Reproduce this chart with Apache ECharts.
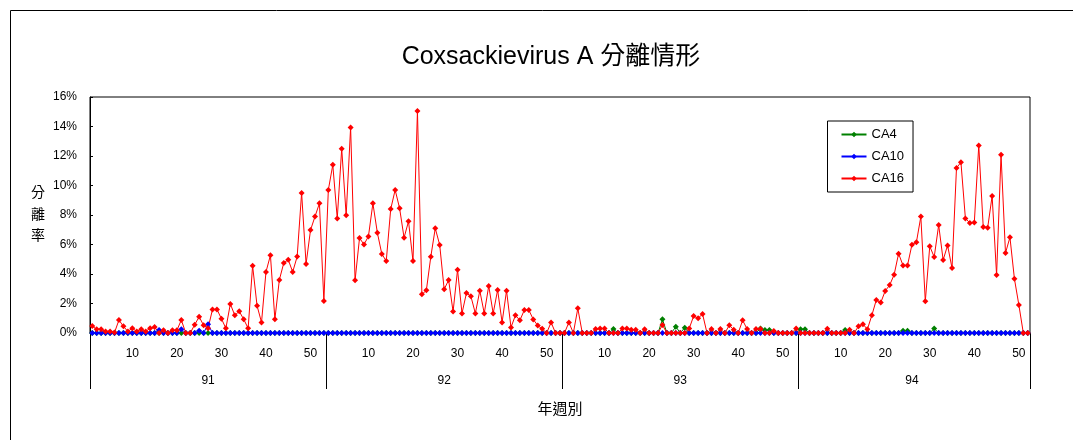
<!DOCTYPE html>
<html><head><meta charset="utf-8">
<script src="https://cdn.jsdelivr.net/npm/echarts@6/dist/echarts.min.js"></script>
<style>html,body{margin:0;padding:0;background:#fff}#c{width:1073px;height:440px}</style>
</head><body><div id="c"></div>
<script>
// ---- data (isolation rate, %) ----
const years = ['91', '92', '93', '94'];
const weeksPerYear = [53, 53, 53, 52];
const seriesNames = ['CA4', 'CA10', 'CA16'];
const yTicks = [0, 2, 4, 6, 8, 10, 12, 14, 16];

const ca4_91 = [0,0,0,0,0,0,0,0,0,0, 0,0,0,0,0,0,0,0,0,0, 0,0,0,0,0,0,0,0,0,0, 0,0,0,0,0,0,0,0,0,0, 0,0,0,0,0,0,0,0,0,0, 0,0,0];
const ca4_92 = [0,0,0,0,0,0,0,0,0,0, 0,0,0,0,0,0,0,0,0,0, 0,0,0,0,0,0,0,0,0,0, 0,0,0,0,0,0,0,0,0,0, 0,0,0,0,0,0,0,0,0,0, 0,0,0];
const ca4_93 = [0,0,0,0,0,0,0,0,0,0, 0,0.27,0,0,0,0,0,0,0,0, 0,0,0.93,0,0,0.43,0,0.36,0,0, 0,0,0,0,0,0,0,0,0,0, 0,0,0,0,0.3,0.2,0.2,0,0,0, 0,0,0];
const ca4_94 = [0.25,0.25,0,0,0,0,0,0,0,0, 0.2,0,0,0,0,0,0,0,0,0, 0,0,0,0.15,0.15,0,0,0,0,0, 0.3,0,0,0,0,0,0,0,0,0, 0,0,0,0,0,0,0,0,0,0, 0,0];

const ca10_91 = [0,0,0,0,0,0,0,0,0,0, 0,0,0,0,0,0.2,0,0,0,0, 0.25,0,0,0,0.16,0,0.6,0,0,0, 0,0,0,0,0,0,0,0,0,0, 0,0,0,0,0,0,0,0,0,0, 0,0,0];
const ca10_92 = [0,0,0,0,0,0,0,0,0,0, 0,0,0,0,0,0,0,0,0,0, 0,0,0,0,0,0,0,0,0,0, 0,0,0,0,0,0,0,0,0,0, 0,0,0,0,0,0,0,0,0,0, 0,0,0];
const ca10_93 = [0,0,0,0,0,0,0,0,0,0, 0,0,0,0,0,0,0,0,0,0, 0,0,0,0,0,0,0,0,0,0, 0,0,0,0,0,0,0,0,0,0, 0,0,0,0,0,0,0,0,0,0, 0,0,0];
const ca10_94 = [0,0,0,0,0,0,0,0,0,0, 0,0,0,0,0,0,0,0,0,0, 0,0,0,0,0,0,0,0,0,0, 0,0,0,0,0,0,0,0,0,0, 0,0,0,0,0,0,0,0,0,0, 0,0];

const ca16_91 = [0.47,0.25,0.25,0.11,0.11,0.03,0.88,0.45,0.11,0.32, 0.11,0.25,0.11,0.32,0.4,0,0.18,0,0.18,0.18, 0.88,0,0,0.56,1.1,0.52,0.32,1.6,1.6,0.97, 0.32,1.97,1.2,1.47,0.93,0.32,4.56,1.85,0.72,4.14, 5.27,0.93,3.6,4.75,4.97,4.14,5.18,9.5,4.68,6.98, 7.89,8.79,2.17];
const ca16_92 = [9.7,11.4,7.77,12.5,7.98,13.94,3.57,6.44,6.0,6.55, 8.79,6.8,5.36,4.88,8.4,9.7,8.45,6.46,7.57,4.88, 15.05,2.62,2.89,5.17,7.1,5.97,2.96,3.59,1.45,4.29, 1.33,2.71,2.49,1.33,2.87,1.33,3.19,1.33,2.92,0.72, 2.87,0.38,1.2,0.86,1.56,1.56,0.92,0.51,0.28,0, 0.72,0,0];
const ca16_93 = [0,0.72,0,1.67,0,0,0,0.27,0.3,0.3, 0,0,0,0.3,0.3,0.22,0.22,0,0.25,0, 0,0,0.54,0,0,0,0,0,0.3,1.15, 1.0,1.29,0,0.27,0,0.27,0,0.52,0.22,0, 0.86,0.27,0,0.27,0.27,0,0,0.14,0,0, 0,0,0.3];
const ca16_94 = [0,0,0,0,0,0,0.29,0,0,0, 0,0.22,0,0.45,0.6,0.25,1.2,2.24,2.06,2.85, 3.25,3.95,5.38,4.58,4.58,5.99,6.15,7.89,2.15,5.88, 5.15,7.32,4.95,5.94,4.4,11.19,11.57,7.77,7.46,7.5, 12.72,7.19,7.14,9.29,3.93,12.09,5.42,6.49,3.68,1.9, 0,0];

// ---- build categories ----
const weekCats = [], yearCats = [], yearStarts = [], yearMids = [];
let idx = 0;
years.forEach((y, k) => {
  const n = weeksPerYear[k];
  yearStarts.push(idx);
  yearMids.push(idx + Math.floor(n / 2) - (n % 2 === 0 ? 1 : 0));
  for (let w = 1; w <= n; w++) { weekCats.push(String(w)); yearCats.push(y); }
  idx += n;
});
const ca4 = [].concat(ca4_91, ca4_92, ca4_93, ca4_94);
const ca10 = [].concat(ca10_91, ca10_92, ca10_93, ca10_94);
const ca16 = [].concat(ca16_91, ca16_92, ca16_93, ca16_94);

const FONT = '"Liberation Sans", Arial, "Noto Sans CJK TC", sans-serif';
const chart = echarts.init(document.getElementById('c'), null, { renderer: 'canvas' });
const mk = (name, data, color) => ({
  name, type: 'line', data, symbol: 'diamond', symbolSize: 6, showAllSymbol: true, color,
  lineStyle: { width: 1, color }, itemStyle: { color }, emphasis: { disabled: true }
});
chart.setOption({
  animation: false,
  backgroundColor: '#fff',
  title: {
    text: 'Coxsackievirus A 分離情形', left: 551, top: 45, textAlign: 'center', padding: 0,
    textStyle: { fontFamily: FONT, fontSize: 25, fontWeight: 'normal', color: '#000' }
  },
  graphic: [{
    type: 'rect', silent: true, z: -10,
    shape: { x: 10.5, y: 10.5, width: 1300, height: 700 },
    style: { fill: 'none', stroke: '#000', lineWidth: 1 }
  }],
  legend: {
    orient: 'vertical', left: 827.5, top: 121, padding: [6, 9, 6, 13], itemGap: 7,
    itemWidth: 25, itemHeight: 7, borderColor: '#000', borderWidth: 1, borderRadius: 0,
    backgroundColor: '#fff', data: seriesNames,
    textStyle: { fontFamily: FONT, fontSize: 13, color: '#000', lineHeight: 15 }
  },
  grid: { left: 90, right: 43, top: 97, bottom: 107, show: true, borderColor: '#000', borderWidth: 1 },
  xAxis: [{
    type: 'category', data: weekCats, boundaryGap: true,
    axisLine: { show: true, lineStyle: { color: '#000' } },
    axisTick: { show: false },
    axisLabel: { interval: (i, v) => (+v) % 10 === 0, margin: 15, fontSize: 12, color: '#000', fontFamily: FONT },
    name: '年週別', nameLocation: 'middle', nameGap: 69,
    nameTextStyle: { fontSize: 15, color: '#000', fontFamily: FONT }
  }, {
    type: 'category', data: yearCats, boundaryGap: true, position: 'bottom',
    axisLine: { show: false },
    axisTick: { show: true, interval: (i) => yearStarts.includes(i), length: 56, lineStyle: { color: '#000' } },
    axisLabel: { interval: (i) => yearMids.includes(i), margin: 42, fontSize: 12, color: '#000', fontFamily: FONT }
  }],
  yAxis: {
    type: 'value', min: yTicks[0], max: yTicks[yTicks.length - 1], interval: yTicks[1] - yTicks[0],
    axisLine: { show: true, lineStyle: { color: '#000' } },
    axisTick: { show: true, inside: true, length: 3, lineStyle: { color: '#000' } },
    splitLine: { show: false },
    axisLabel: { formatter: '{value}%', fontSize: 12, color: '#000', margin: 13, fontFamily: FONT },
    name: '分\n離\n率', nameLocation: 'middle', nameRotate: 0, nameGap: 45,
    nameTextStyle: { fontSize: 14, lineHeight: 21.5, color: '#000', fontFamily: FONT }
  },
  series: [mk('CA4', ca4, '#008000'), mk('CA10', ca10, '#0000FF'), mk('CA16', ca16, '#FF0000')]
});
</script></body></html>
